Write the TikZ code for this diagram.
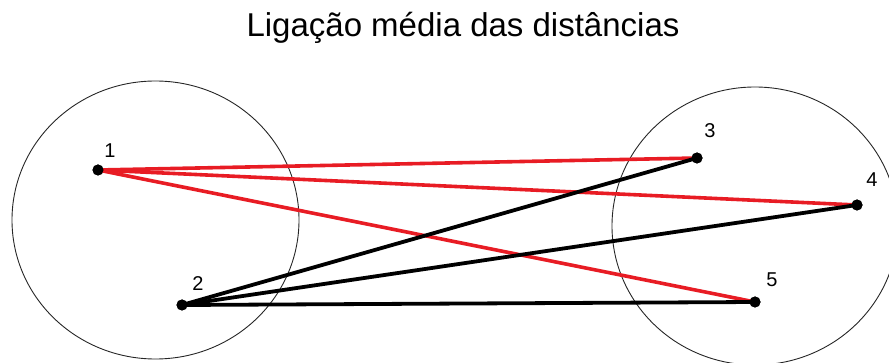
\documentclass[tikz,border=0pt]{standalone}
\usepackage{fontspec}
\setmainfont{Liberation Sans}
\definecolor{lred}{RGB}{232,28,36}
\begin{document}
\begin{tikzpicture}[x=1pt,y=-1pt,
  dot/.style={circle,fill=black,inner sep=0pt,minimum size=11pt},
  lbl/.style={font=\fontsize{20}{24}\selectfont,inner sep=0pt},
  redline/.style={draw=lred,line width=3.6pt},
  blackline/.style={draw=black,line width=3.8pt,line cap=round},
  clus/.style={draw=black!85,line width=0.9pt}]
\useasboundingbox (0,0) rectangle (889,363);
\node[font=\fontsize{33}{40}\selectfont,anchor=base,inner sep=0pt] (title) at (463,37) {Ligação média das distâncias};
\draw[clus] (155.5,220) ellipse [x radius=143.5, y radius=139];
\draw[clus] (755,226) ellipse [x radius=143, y radius=139];
\node[dot] (p1) at (98,170) {};
\node[dot] (p2) at (182,305) {};
\node[dot] (p3) at (697,158) {};
\node[dot] (p4) at (857,205) {};
\node[dot] (p5) at (755,302) {};
\draw[redline] (p1.center) -- (p3.center);
\draw[redline] (p1.center) -- (p4.center);
\draw[redline] (p1.center) -- (p5.center);
\draw[blackline] (p2.center) -- (p3.center);
\draw[blackline] (p2.center) -- (p4.center);
\draw[blackline] (p2.center) -- (p5.center);
\node[dot] at (p1) {};
\node[dot] at (p2) {};
\node[dot] at (p3) {};
\node[dot] at (p4) {};
\node[dot] at (p5) {};
\node[lbl] (l1) at (110,151) {1};
\node[lbl] (l2) at (198,284) {2};
\node[lbl] (l3) at (710,131) {3};
\node[lbl] (l4) at (872,180) {4};
\node[lbl] (l5) at (772,280) {5};
\end{tikzpicture}
\end{document}
